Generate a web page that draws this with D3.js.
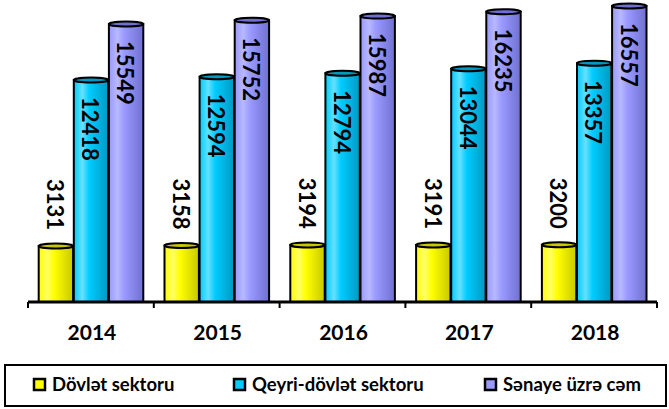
<!DOCTYPE html>
<html>
<head>
<meta charset="utf-8">
<script src="https://cdn.jsdelivr.net/npm/d3@7"></script>
<style>
  body { margin: 0; background: #fff; }
  text { font-family: Lato, "Liberation Sans", sans-serif; font-weight: bold; }
</style>
</head>
<body>
<svg id="chart" width="669" height="409"></svg>
<script>
const years = ['2014', '2015', '2016', '2017', '2018'];
const dovlet = [3131, 3158, 3194, 3191, 3200];
const qeyri = [12418, 12594, 12794, 13044, 13357];
const senaye = [15549, 15752, 15987, 16235, 16557];
const seriesNames = ['Dövlət sektoru', 'Qeyri-dövlət sektoru', 'Sənaye üzrə cəm'];

const svg = d3.select('#chart');
const baseY = 302;

// colours: [main, light, dark]
const colors = [
  ['#ffff00', '#ffff66', '#c8c800'],
  ['#00ccff', '#66e0ff', '#0099c0'],
  ['#9999ff', '#b8b8ff', '#7070d0']
];

const series = [dovlet, qeyri, senaye];

const x0 = d3.scaleBand().domain(years).range([28, 657]);
const x1 = d3.scaleBand().domain(d3.range(3)).range([10, 116]).padding(0.02);
const y = d3.scaleLinear().domain([0, 17000]).range([baseY, -2]);

// gradients for cylinder look
const defs = svg.append('defs');
colors.forEach(function(c, i) {
  const g = defs.append('linearGradient').attr('id', 'grad' + i)
    .attr('x1', '0%').attr('x2', '100%').attr('y1', '0%').attr('y2', '0%');
  g.append('stop').attr('offset', '0%').attr('stop-color', c[0]);
  g.append('stop').attr('offset', '25%').attr('stop-color', c[1]);
  g.append('stop').attr('offset', '45%').attr('stop-color', c[0]);
  g.append('stop').attr('offset', '100%').attr('stop-color', c[2]);
});

const groups = svg.append('g').selectAll('g')
  .data(years)
  .join('g')
  .attr('transform', d => 'translate(' + x0(d) + ',0)');

groups.each(function(year, yi) {
  const g = d3.select(this);
  series.forEach(function(s, si) {
    const v = s[yi];
    const bx = x1(si), bw = x1.bandwidth();
    const top = y(v);
    g.append('rect')
      .attr('x', bx).attr('y', top)
      .attr('width', bw).attr('height', baseY - top)
      .attr('fill', 'url(#grad' + si + ')')
      .attr('stroke', '#000').attr('stroke-width', 2);
    g.append('ellipse')
      .attr('cx', bx + bw / 2).attr('cy', top)
      .attr('rx', bw / 2).attr('ry', 2.5)
      .attr('fill', colors[si][2])
      .attr('stroke', '#000').attr('stroke-width', 2);

    const lx = bx + bw / 2 - 1;
    const outside = si === 0;
    const ly = outside ? top - 16 : top + 17;
    g.append('text')
      .attr('transform', 'translate(' + lx + ',' + ly + ') rotate(90)')
      .attr('text-anchor', outside ? 'end' : 'start')
      .attr('dy', '0.35em')
      .attr('font-size', 22)
      .attr('fill', '#000')
      .text(v);
  });
});

// category axis
const axis = svg.append('g').attr('transform', 'translate(0,' + baseY + ')');
axis.append('line')
  .attr('x1', x0.range()[0]).attr('x2', x0.range()[1])
  .attr('stroke', '#000').attr('stroke-width', 3);
const bounds = years.map(d => x0(d)).concat([x0.range()[1]]);
axis.selectAll('.tick')
  .data(bounds)
  .join('line')
  .attr('x1', d => d).attr('x2', d => d)
  .attr('y1', 0).attr('y2', 6)
  .attr('stroke', '#000').attr('stroke-width', 2);
axis.selectAll('.yl')
  .data(years)
  .join('text')
  .attr('x', d => x0(d) + x0.bandwidth() / 2 + 1)
  .attr('y', 38)
  .attr('text-anchor', 'middle')
  .attr('font-size', 21)
  .attr('font-weight', 900)
  .text(d => d);

// legend
const legend = svg.append('g');
legend.append('rect')
  .attr('x', 5).attr('y', 365).attr('width', 661).attr('height', 41)
  .attr('fill', '#fff').attr('stroke', '#000').attr('stroke-width', 2);
const legX = [34, 234, 485];
seriesNames.forEach(function(name, i) {
  legend.append('rect')
    .attr('x', legX[i]).attr('y', 379).attr('width', 11).attr('height', 11)
    .attr('fill', colors[i][0]).attr('stroke', '#000').attr('stroke-width', 2.5);
  legend.append('text')
    .attr('x', legX[i] + 18).attr('y', 391)
    .attr('font-size', 18.5)
    .text(name);
});
</script>
</body>
</html>
